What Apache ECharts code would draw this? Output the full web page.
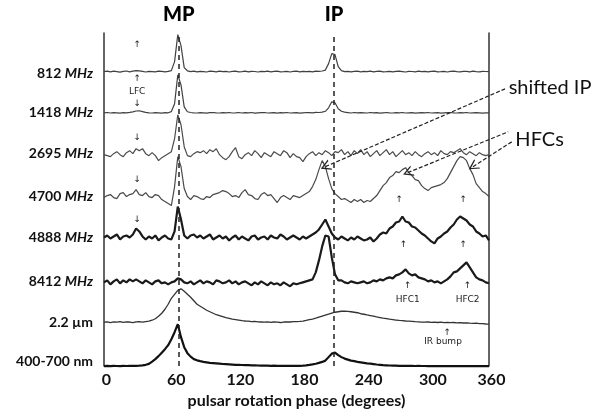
<!DOCTYPE html>
<html><head><meta charset="utf-8">
<script src="https://cdn.jsdelivr.net/npm/echarts@6/dist/echarts.min.js"></script>
<style>html,body{margin:0;padding:0;background:#fff}#c{width:605px;height:414px}</style>
</head><body><div id="c"></div>
<script>
// phase grid (degrees), one sample every 3 degrees
const phases = [];
for (let p = 0; p <= 360; p += 3) phases.push(p);

const traceNames = ['812 MHz', '1418 MHz', '2695 MHz', '4700 MHz', '4888 MHz', '8412 MHz', '2.2 µm', '400-700 nm'];
// vertical offset of each profile (stacking)
const baselines = [295.3, 254, 212, 170, 129, 84, 44, 0];
// where each row label sits on the stacking axis
const labelValues = [293, 254, 213, 170, 129, 85, 44, 5];
const xTicks = [0, 60, 120, 180, 240, 300, 360];
const mpPhase = 70, ipPhase = 215;

const prof812 = [0,0.5,-0.3,0.4,0,-0.5,0.3,0.6,-0.2,0.4,
 1.0,0.8,0.2,-0.4,0.3,0,-0.3,0.5,0.2,-0.2,
 0.3,1,10,37,26,4,0.8,0,0.4,-0.3,
 0.3,0,-0.4,0.5,0.2,-0.3,0.4,0,0.3,-0.4,
 0.2,0.5,-0.2,0,0.4,-0.3,0.3,0.1,-0.4,0.3,
 0,0.4,-0.3,0.2,0.5,-0.2,0,0.3,-0.4,0.2,
 0.4,-0.2,0.3,0,0.2,-0.3,0.4,0.2,0.6,1.5,
 8,18,17,5,1,0,0.3,-0.3,0.2,0.4,
 -0.2,0.3,0,0.4,-0.3,0.2,0.5,-0.2,0,0.3,
 -0.3,0.2,0.4,0,-0.4,0.3,0.1,-0.2,0.4,0,
 0.3,-0.3,0.2,0.5,-0.2,0,0.3,-0.4,0.2,0.4,
 0,-0.3,0.3,0.2,-0.2,0.4,0,-0.3,0.3,0.1,0];
const prof1418 = [0,0.3,-0.2,0.2,0,-0.3,0.2,0,0.4,0.9,
 1.8,2.0,1.2,0.4,0,-0.2,0.2,0,-0.3,0.2,
 0,1.2,9,38,28,6,1,0.3,0,-0.2,
 0.2,0,-0.3,0.2,0.3,0,-0.2,0.2,0,0.3,
 -0.2,0,0.3,-0.2,0.2,0,0.3,-0.3,0,0.2,
 0.3,-0.2,0,0.2,-0.3,0.2,0,0.3,-0.2,0,
 0.2,-0.3,0,0.3,0.2,0,0.4,0.3,0.6,1.5,
 5,11,10,4,1.5,0.6,0.2,-0.2,0.3,0,
 0.2,0,-0.2,0.3,0,0.2,-0.3,0,0.3,0,
 -0.2,0.2,0,0.3,-0.2,0,0.2,-0.3,0,0.2,
 0,0.3,-0.2,0,0.2,-0.3,0,0.2,0.3,0,
 -0.2,0.2,0,0.3,-0.2,0,0.2,0,-0.3,0,0];
const prof2695 = [0,-1,-2,1,3,0,-2,2,4,1,
 6,4,6,1,-1,2,-1,-6,-3,-1,
 1,3,16,40,30,8,-1,-2,1,3,
 2,4,1,5,3,6,0,-3,-5,-2,
 3,7,-2,-4,0,2,-1,4,1,-3,
 2,0,-2,3,1,-1,4,2,-3,1,
 -2,-3,-7,-2,1,3,-1,2,0,4,
 2,-1,3,2,5,0,3,-1,4,1,
 5,0,3,-2,1,4,-1,2,5,0,
 3,-2,1,4,0,2,-1,3,0,-2,
 1,3,0,2,-1,4,1,0,3,2,
 4,6,2,0,3,1,-1,2,0,-1,0];
const prof4700 = [-1,1,2,-1,-2,3,4,0,2,3,
 7,2,1,4,0,-1,2,1,-3,-5,
 -7,-9,10,40,30,8,0,-3,1,0,
 -2,-3,0,-1,2,3,4,6,5,3,
 0,1,-1,4,7,2,1,-2,-3,2,
 4,1,2,-2,-6,-1,1,-1,-3,1,
 0,-1,1,3,5,10,17,27,36,30,
 18,8,3,0,-3,-2,-4,-6,-3,-5,
 -3,-6,-4,-5,-2,1,6,11,14,19,
 21,25,24,27,29,24,21,17,16,11,
 8,6,9,10,11,12,14,18,24,30,
 36,40,39,36,28,22,13,9,5,3,0];
const prof4888 = [0,2,-1,1,3,-2,1,2,0,3,
 9,6,1,-2,1,-1,2,-3,0,2,
 -1,-2,6,31,18,2,-1,2,3,0,
 2,-1,1,3,-2,0,2,-1,1,-3,
 0,2,-2,1,-1,-3,1,2,-2,0,
 1,-2,2,0,-1,3,1,-2,0,2,
 0,-2,1,-1,1,3,5,8,13,18,
 11,4,0,-2,1,-1,-3,0,-2,1,
 -1,-3,-2,0,-4,-1,3,5,4,9,
 11,15,16,21,16,15,11,10,7,4,
 2,-1,-4,-6,-1,1,4,6,10,13,
 18,21,19,17,13,11,6,4,1,2,-3];
const prof8412 = [0,2,-2,1,3,-1,2,0,3,1,
 3,1,-1,2,0,-2,1,2,-1,0,
 -2,0,1,4,3,0,-1,1,-2,0,
 2,-1,1,0,-2,2,1,-1,0,2,
 -1,1,-2,0,1,-1,-3,0,-2,1,
 -1,-3,0,-2,-1,-3,0,-2,-4,-1,
 -2,-1,0,1,2,3,10,22,36,47,
 46,25,8,2,2,0,-1,1,0,-1,
 0,1,-1,0,2,1,3,2,4,5,
 4,7,8,10,13,9,7,8,5,4,
 3,1,2,0,1,-1,1,3,6,10,
 11,14,17,20,15,10,5,3,2,0,-1];
const profIR = [0,0.4,-0.3,0.3,0,0.5,-0.2,0.3,0.2,-0.3,
 0.3,0.5,0,0.6,1,2,3.5,6,9,13,
 18,24,28,32,33.5,31,28,25,21.5,18,
 16,14,12,10.5,9,7.5,6.5,5.5,4.5,3.8,
 3,2.5,2,1.5,1.2,1,0.6,0.8,0.3,0.2,
 0,0.3,-0.2,0.2,0,-0.3,0.2,0.4,0.2,0.5,
 0.5,0.8,1.2,1.8,2.5,3.2,4,5,6,7,
 8,9,10,10.5,11,11,10.8,10.5,10,9.5,
 8.5,8,7.3,6.7,6,5.3,4.7,4,3.5,3,
 2.6,2.2,1.8,1.5,1.2,1,0.8,0.5,0.3,0.1,
 0,0.2,-0.2,0,-0.3,0.1,-0.4,-0.2,-0.5,-0.3,
 -0.6,-0.5,-0.8,-0.6,-1,-1.2,-1,-1.4,-1.5,-1.8,-2];
const profOpt = [0,0.2,0,0.3,0.1,0,0.2,0.1,0.3,0.2,
 0.3,0.5,0.8,1.3,2.2,4.5,7,10,13.5,17,
 21,27,34,42,29,19,13,9.5,7,5.8,
 5,4.3,3.8,3.3,3,2.7,2.4,2.1,1.9,1.7,
 1.5,1.3,1.2,1.1,1,0.9,0.8,0.7,0.6,0.5,
 0.5,0.4,0.3,0.4,0.3,0.2,0.3,0.2,0.3,0.2,
 0.2,0.3,0.5,0.8,1.2,1.7,2.4,3.2,4.2,5.5,
 9,12.5,13.5,11,9,7.5,6.5,5.5,5,4.3,
 3.8,3.3,2.8,2.4,2,1.6,1.3,1,0.8,0.6,
 0.5,0.4,0.3,0.3,0.2,0.3,0.2,0.1,0.2,0.1,
 0.1,0,0.1,0,0.1,0,0,0.1,0,0,
 0,0.1,0,0,0.1,0,0,0,0.1,0,0];
const profiles = [prof812, prof1418, prof2695, prof4700, prof4888, prof8412, profIR, profOpt];

// small text annotations: [phase, stacked value, text]
const notes = [
  [31, 322, '↑'], [31, 288, '↑'], [31, 275, 'LFC'], [31, 263, '↓'],
  [31, 229, '↓'], [31, 187, '↓'], [31, 147, '↓'],
  [276, 167, '↑'], [336, 167, '↑'],
  [280, 122, '↑'], [336, 122, '↑'],
  [284, 81, '↑'], [284, 67, 'HFC1'], [340, 81, '↑'], [340, 67, 'HFC2'],
  [321, 34, '↑'], [317, 25, 'IR bump']
];
// callouts: [tip phase, tip value, text-end phase, text-end value, text]
const callouts = [
  [207, 200, 375, 278, 'shifted IP'],
  [284, 194, 378, 235, ''],
  [345, 200, 381.5, 225, 'HFCs']
];

const styles = [
  {color: '#404040', width: 1.2},
  {color: '#404040', width: 1.2},
  {color: '#4a4a4a', width: 1.2},
  {color: '#4a4a4a', width: 1.2},
  {color: '#1a1a1a', width: 2.2},
  {color: '#1a1a1a', width: 2.2},
  {color: '#333333', width: 1.3},
  {color: '#111111', width: 2.2}
];

const chevron = 'path://M5,0L10,10L8.7,10L5,2.6L1.3,10L0,10Z';
const FONT = 'Lato';

const series = profiles.map((prof, k) => ({
  type: 'line',
  name: traceNames[k],
  data: phases.map((p, i) => [p, baselines[k] + prof[i]]),
  showSymbol: false,
  symbol: 'none',
  clip: false,
  lineStyle: {color: styles[k].color, width: styles[k].width},
  z: 3
}));

// vertical reference lines for MP / IP on the bottom profile
series[7].markLine = {
  silent: true,
  animation: false,
  symbol: 'none',
  label: {show: true, position: 'end', formatter: '{b}', distance: 8, fontFamily: FONT, fontWeight: 900, fontSize: 20, color: '#000'},
  lineStyle: {type: [5, 4], color: '#222', width: 1.5},
  data: [
    {xAxis: mpPhase, name: 'MP'},
    {xAxis: ipPhase, name: 'IP'}
  ]
};
series[6].markPoint = {
  silent: true,
  animation: false,
  symbol: 'circle',
  symbolSize: 1,
  itemStyle: {color: 'rgba(0,0,0,0)'},
  label: {show: true, position: 'inside', formatter: '{b}', color: '#222', fontFamily: 'DejaVu Sans', fontSize: 9},
  data: notes.map(n => ({coord: [n[0], n[1]], name: n[2]}))
};

const chart = echarts.init(document.getElementById('c'), null, {renderer: 'canvas'});
chart.setOption({
  animation: false,
  backgroundColor: '#fff',
  grid: {left: 104, right: 116, top: 33, bottom: 47},
  xAxis: {
    type: 'value', min: 0, max: 360, interval: 60,
    axisLine: {show: false}, axisTick: {show: false}, splitLine: {show: false},
    axisLabel: {
      margin: 6,
      formatter: v => (v === 0 || v === 360) ? '{e|' + v + '}' : '{m|' + v + '}',
      rich: {
        e: {fontFamily: FONT, fontWeight: 'bold', fontSize: 16, color: '#111', padding: [0, 0, 0, 5]},
        m: {fontFamily: FONT, fontWeight: 'bold', fontSize: 16, color: '#111', padding: [0, 0, 0, 16]}
      }
    },
    name: 'pulsar rotation phase (degrees)',
    nameLocation: 'middle', nameGap: 22,
    nameTextStyle: {fontFamily: FONT, fontWeight: 'bold', fontSize: 16, color: '#111'}
  },
  yAxis: [{
    type: 'value', min: 0, max: 334,
    axisLine: {show: true, lineStyle: {color: '#333', width: 1.5}},
    axisTick: {show: false}, splitLine: {show: false},
    axisLabel: {
      margin: 11,
      customValues: labelValues,
      formatter: v => {
        const k = labelValues.indexOf(v);
        if (k < 0) return '';
        const parts = traceNames[k].split(' ');
        if (parts[1] === 'MHz') return '{n|' + parts[0] + ' }{i|MHz}';
        return '{n|' + traceNames[k] + '}';
      },
      rich: {
        n: {fontFamily: FONT, fontWeight: 'bold', fontSize: 14, color: '#111'},
        i: {fontFamily: FONT, fontWeight: 'bold', fontStyle: 'italic', fontSize: 14, color: '#111'}
      }
    }
  }, {
    type: 'value', min: 0, max: 334, position: 'right',
    axisLine: {show: true, lineStyle: {color: '#333', width: 1.5}},
    axisTick: {show: false}, splitLine: {show: false}, axisLabel: {show: false}
  }],
  series: series
});

// callout arrows: the tip is placed in data space; the text end lies right of the
// plot, so its position is obtained from the same axes through convertToPixel.
const calloutLines = callouts.map(c => {
  const endPx = chart.convertToPixel({gridIndex: 0}, [c[2], c[3]]);
  return [
    {coord: [c[0], c[1]], symbol: chevron, symbolSize: [11, 10]},
    {x: endPx[0], y: endPx[1], symbol: 'none',
     label: {show: !!c[4], position: 'end', formatter: c[4], distance: 4, fontFamily: FONT, fontSize: 20, color: '#111'}}
  ];
});
chart.setOption({
  series: [{}, {}, {}, {
    markLine: {
      silent: true,
      animation: false,
      symbol: 'none',
      label: {show: false},
      lineStyle: {type: [4, 2], color: '#222', width: 1.2},
      data: calloutLines
    }
  }]
});
</script>
</body></html>
